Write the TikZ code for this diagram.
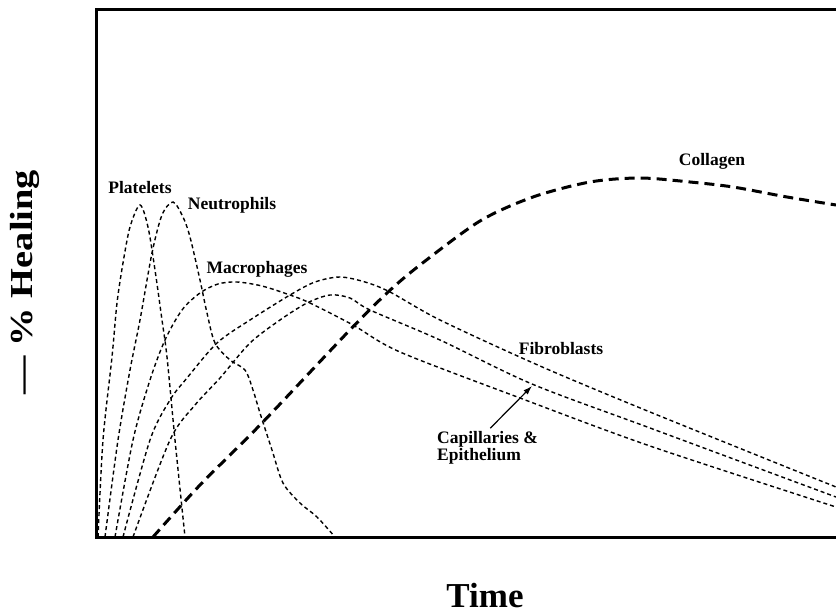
\documentclass[tikz,border=0pt]{standalone}
\usepackage{fontspec}
\setmainfont{Liberation Serif}
\usetikzlibrary{arrows.meta}

\tikzset{
  cellcurve/.style={line width=1.4pt,dash pattern=on 4pt off 3pt},
  collagencurve/.style={line width=3pt,dash pattern=on 10pt off 6pt},
  curvelabel/.style={font=\fontsize{17.5}{17}\selectfont\bfseries,inner sep=1pt}
}

\begin{document}
\begin{tikzpicture}[x=1pt,y=-1pt]
				\useasboundingbox (0,0) rectangle (836,615);
				\begin{scope}
				\clip (0,0) rectangle (836,615);
				\draw[line width=3pt] (845,10) -| (96,537) -- (845,537);
				% cells
				\draw[cellcurve] plot[smooth,tension=0.5] coordinates {(98,537) (103,440) (112,357) (117,303) (123,263) (130,227) (140,205) (148,227) (155,270) (162,320) (167,357) (175,440) (185,537)};
				\draw[cellcurve] plot[smooth,tension=0.5] coordinates {(105,537) (118,440) (130,370) (140,320) (152,253) (162,215) (173,202) (183,217) (190,237) (200,280) (207,313) (215,343) (230,360) (245,370) (253,390) (260,413) (272,450) (283,483) (300,503) (317,517) (335,537)};
				\draw[cellcurve] plot[smooth,tension=0.5] coordinates {(115,537) (133,440) (150,380) (165,340) (182,310) (200,293) (218,284) (237,282) (262,286) (290,295) (310,303) (353,325) (400,352) (520,398) (650,446) (836,507)};
				\draw[cellcurve] plot[smooth,tension=0.5] coordinates {(123,537) (150,440) (170,400) (187,378) (217,343) (250,320) (290,295) (315,282) (340,277) (365,282) (390,292) (440,320) (540,366) (650,412) (836,487)};
				\draw[cellcurve] plot[smooth,tension=0.5] coordinates {(133,537) (170,440) (195,405) (220,378) (250,343) (280,320) (307,303) (330,295) (350,298) (370,310) (440,340) (532,384) (650,428) (836,497)};
				% collagen
				\draw[collagencurve] plot[smooth,tension=0.5] coordinates {(153,537) (200,485) (261,424) (347,333) (387,293) (420,265) (480,221) (533,197) (590,182) (640,178) (690,182) (733,187) (787,197) (836,205)};
				\end{scope}
				\node[curvelabel] (platelets) at (140,188) {Platelets};
				\node[curvelabel] (neutrophils) at (232,205) {Neutrophils};
				\node[curvelabel] (macrophages) at (257,269) {Macrophages};
				\node[curvelabel] (collagen) at (712,161) {Collagen};
				\node[curvelabel] (fibroblasts) at (561,349) {Fibroblasts};
				\node[curvelabel,align=left,anchor=north west,inner sep=0pt] (capillaries) at (437,431) {Capillaries \&\\Epithelium};
				\coordinate (captip) at (532,386);
				\draw[line width=1.2pt,-{Latex[length=9pt,width=6pt]},shorten <=4pt] (capillaries.north) -- (captip);
				\node[font=\fontsize{35}{36}\selectfont\bfseries,anchor=base] (time) at (485,607) {Time};
				\node[font=\fontsize{32}{34}\selectfont\bfseries,rotate=90] (healing) at (25,282) {\scalebox{1.2}[1]{--- \% Healing}};
			\end{tikzpicture}
\end{document}
